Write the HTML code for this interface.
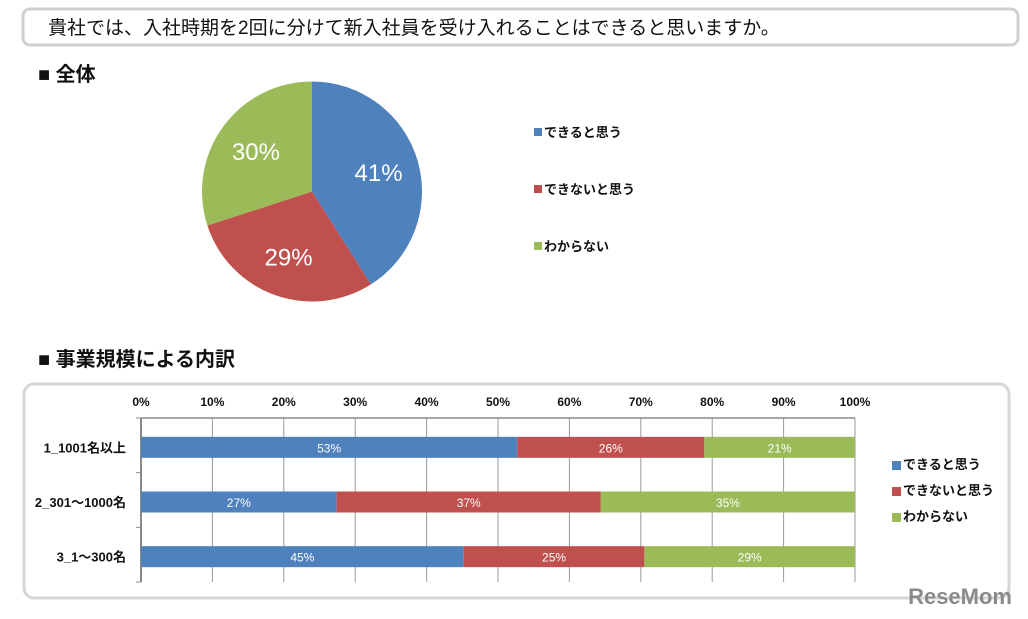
<!DOCTYPE html>
<html><head><meta charset="utf-8"><style>
body{margin:0;background:#fff;width:1028px;height:619px;overflow:hidden;font-family:"Liberation Sans","Noto Sans CJK JP",sans-serif;}
svg{position:absolute;left:0;top:0}
</style></head><body>
<svg width="1028" height="619">
<rect x="23" y="9" width="995" height="36" rx="7" fill="#fff" stroke="#d0d0d0" stroke-width="3"/>
<text x="48" y="34" font-size="19" fill="#111" font-family="Liberation Sans, Noto Sans CJK JP, sans-serif">貴社では、入社時期を2回に分けて新入社員を受け入れることはできると思いますか。</text>
<text x="38" y="81" font-size="20" font-weight="bold" fill="#111" font-family="Liberation Sans, Noto Sans CJK JP, sans-serif">■ 全体</text>
<g id="pie"></g>
<g id="pieLegend"></g>
<text x="38" y="366" font-size="20" font-weight="bold" fill="#111" font-family="Liberation Sans, Noto Sans CJK JP, sans-serif">■ 事業規模による内訳</text>
<rect x="24" y="384" width="985" height="214" rx="10" fill="#fff" stroke="#d6d6d6" stroke-width="3"/>
<g id="bars"></g>
<text x="1012" y="604" text-anchor="end" font-size="22" font-weight="bold" fill="#8a8a8a">ReseMom</text>
</svg>
<script>
const NS="http://www.w3.org/2000/svg";
const seriesNames=["できると思う","できないと思う","わからない"];
const colors=["#4f81bd","#c0504d","#9bbb59"];
const pieValues=[41,29,30];
const categories=["1_1001名以上","2_301〜1000名","3_1〜300名"];
const s1=[52.7,27.4,45.2];
const s2=[26.2,37.0,25.3];
const s3=[21.1,35.6,29.5];
const s1Labels=["53%","27%","45%"];
const s2Labels=["26%","37%","25%"];
const s3Labels=["21%","35%","29%"];
const ticks=[0,10,20,30,40,50,60,70,80,90,100];
function mk(t,a,p){const e=document.createElementNS(NS,t);for(const k in a)e.setAttribute(k,a[k]);p.appendChild(e);return e;}
const pie=document.getElementById('pie');
const cx=312,cy=191.5,R=110;
const tot=pieValues.reduce((a,b)=>a+b,0);
let ang=0;
pieValues.forEach((v,i)=>{
  const a0=ang,a1=ang+v/tot*2*Math.PI;ang=a1;
  const x0=cx+R*Math.sin(a0),y0=cy-R*Math.cos(a0),x1=cx+R*Math.sin(a1),y1=cy-R*Math.cos(a1);
  const p=mk('path',{d:`M${cx},${cy}L${x0},${y0}A${R},${R} 0 ${a1-a0>Math.PI?1:0} 1 ${x1},${y1}Z`,fill:colors[i]},pie);
  
  
  const m=(a0+a1)/2,rr=R*0.63;
  const t=mk('text',{x:cx+rr*Math.sin(m),y:cy-rr*Math.cos(m)+9,'text-anchor':'middle','font-size':24,fill:'#fff'},pie);
  t.textContent=Math.round(v)+'%';
  
  
});
const pl=document.getElementById('pieLegend');
seriesNames.forEach((n,i)=>{
  const y=132+i*57;
  const r=mk('rect',{x:534,y:y-4,width:8,height:8,fill:colors[i]},pl);
  
  
  const t=mk('text',{x:544,y:y+5,'font-size':13,'font-weight':'bold',fill:'#111'},pl);
  t.textContent=n;
  
  
});
const g=document.getElementById('bars');
const X0=141,X1=855,plotTop=418,plotBot=582;
const xs=v=>X0+(X1-X0)*v/100;
ticks.forEach(t=>{
  const l=mk('line',{x1:xs(t),x2:xs(t),y1:plotTop,y2:plotBot,stroke:t==0?'#888':'#999','stroke-width':t==0?2:1},g);
  
  
  const tx=mk('text',{x:xs(t),y:406,'text-anchor':'middle','font-size':12,'font-weight':'bold',fill:'#111'},g);
  tx.textContent=t+'%';
  
  
});
mk('line',{x1:X0,x2:X1,y1:plotTop,y2:plotTop,stroke:'#888','stroke-width':1.5},g);
const band=(plotBot-plotTop)/categories.length;
for(let i=0;i<=categories.length;i++){mk('line',{x1:X0-5,x2:X0,y1:plotTop+i*band,y2:plotTop+i*band,stroke:'#888'},g);}
const series=[s1,s2,s3],labs=[s1Labels,s2Labels,s3Labels];
categories.forEach((c,i)=>{
  const yc=plotTop+band*(i+0.5)+2,h=21;
  const ct=mk('text',{x:126,y:yc+5,'text-anchor':'end','font-size':13,'font-weight':'bold',fill:'#111'},g);
  ct.textContent=c;
  
  
  let acc=0;
  series.forEach((s,k)=>{
    const x=xs(acc),w=xs(acc+s[i])-x;acc+=s[i];
    const r=mk('rect',{x:x,y:yc-h/2,width:w,height:h,fill:colors[k]},g);
    
    
    const t=mk('text',{x:x+w/2,y:yc+5,'text-anchor':'middle','font-size':12,fill:'#fff'},g);
    t.textContent=labs[k][i];
    
    
  });
});
seriesNames.forEach((n,i)=>{
  const y=463+i*26;
  const r=mk('rect',{x:892,y:y-2,width:9,height:9,fill:colors[i]},g);
  
  
  const t=mk('text',{x:903,y:y+6,'font-size':13,'font-weight':'bold',fill:'#111'},g);
  t.textContent=n;
  
  
});
</script>
</body></html>
